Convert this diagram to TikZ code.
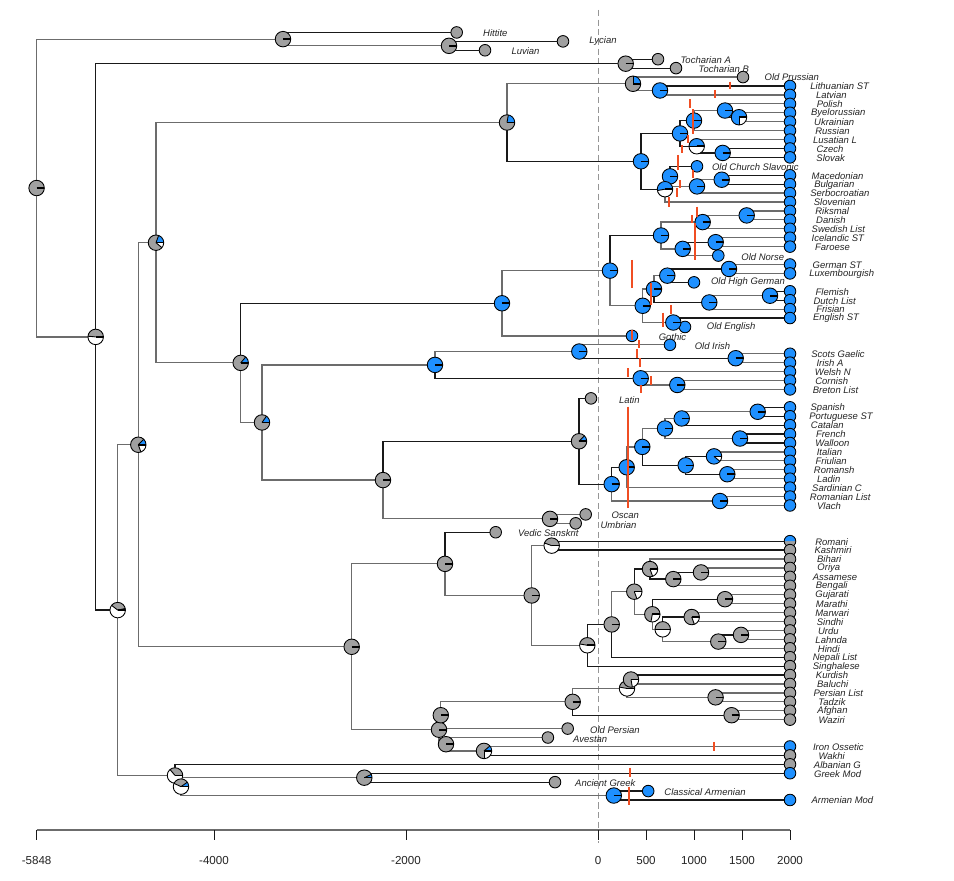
\documentclass[tikz,border=0pt]{standalone}
\usepackage{fontspec}
\setmainfont{Liberation Sans}
\definecolor{cblue}{RGB}{30,144,255}
\definecolor{cgrey}{RGB}{160,160,160}
\definecolor{cred}{RGB}{240,78,35}
\definecolor{edgek}{RGB}{25,25,25}
\definecolor{edgeg}{RGB}{108,108,108}
\definecolor{zerog}{RGB}{150,150,150}
\definecolor{labc}{RGB}{35,35,35}
\newcommand\PR{0.155cm}
\newcommand\TR{0.116cm}
\tikzset{
 ek/.style={draw=edgek,line width=0.7pt},
 eg/.style={draw=edgeg,line width=0.7pt},
 pieedge/.style={draw=black,line width=0.5pt},
 pietick/.style={draw=black,line width=0.9pt},
 tipedge/.style={draw=black,line width=0.5pt},
 redtick/.style={draw=cred,line width=1.2pt},
 lab/.style={font=\itshape\fontsize{5.4}{6}\selectfont,text=labc,inner sep=0pt},
 axlab/.style={font=\fontsize{6.6}{7}\selectfont,text=labc,inner sep=0pt},
 zeroline/.style={draw=zerog,line width=0.5pt,dash pattern=on 3.5pt off 2pt},
 axisline/.style={draw=edgeg,line width=0.8pt},
 axtick/.style={draw=edgek,line width=0.5pt}
}
\newcommand\pienode[3]{%
  \fill[white] (#1) circle[radius=\PR];
  \ifdim #2pt>0pt
    \fill[cblue] (#1) -- ++(0:\PR) arc[start angle=0,end angle=#2,radius=\PR] -- cycle;
  \fi
  \pgfmathsetmacro\pieE{#2+#3}%
  \ifdim #3pt>0pt
    \fill[cgrey] (#1) -- ++(#2:\PR) arc[start angle=#2,end angle=\pieE,radius=\PR] -- cycle;
  \fi
  \ifdim #2pt>0pt \ifdim #2pt<360pt \draw[pieedge] (#1) -- ++(#2:\PR); \fi\fi
  \ifdim #3pt>0pt \ifdim \pieE pt<360pt \draw[pieedge] (#1) -- ++(\pieE:\PR); \fi\fi
  \draw[pieedge] (#1) circle[radius=\PR];
  \draw[pietick] (#1) -- ++(0:\PR);
}
\newcommand\tipnode[2]{\draw[tipedge,fill=#2] (#1) circle[radius=\TR];}
\newcommand\redmark[3]{\draw[redtick] (#1,#2) -- (#1,#3);}
\begin{document}
\begin{tikzpicture}[x=0.02cm,y=-0.02cm]
\useasboundingbox (0,0) rectangle (954,881);
% zero line
\coordinate (z0) at (598,10); \coordinate (z1) at (598,843);
\draw[zeroline] (z0) -- (z1);
% ---- ancient tips
\coordinate (hit) at (456.7,32.45);
\coordinate (lyc) at (563,41.38);
\coordinate (luv) at (485,50.30);
\coordinate (tca) at (658,59.23);
\coordinate (tcb) at (676,68.15);
\coordinate (opr) at (743,77.08);
\coordinate (ocs) at (697,166.33);
\coordinate (ono) at (718.3,255.58);
\coordinate (ohg) at (694,282.35);
\coordinate (oen) at (685,326.98);
\coordinate (got) at (632,335.90);
\coordinate (oir) at (670,344.83);
\coordinate (lat) at (591,398.38);
\coordinate (osc) at (585.7,514.40);
\coordinate (umb) at (575.7,523.33);
\coordinate (ved) at (495.7,532.25);
\coordinate (ope) at (567.7,728.60);
\coordinate (ave) at (547.9,737.53);
\coordinate (agr) at (555,782.15);
\coordinate (car) at (648.2,791.08);
% ---- extant leaves
\coordinate (lit) at (790,86.00);
\coordinate (lav) at (790,94.93);
\coordinate (pol) at (790,103.85);
\coordinate (bye) at (790,112.78);
\coordinate (ukr) at (790,121.70);
\coordinate (rus) at (790,130.63);
\coordinate (lus) at (790,139.55);
\coordinate (cze) at (790,148.48);
\coordinate (slk) at (790,157.40);
\coordinate (mac) at (790,175.25);
\coordinate (bul) at (790,184.18);
\coordinate (ser) at (790,193.10);
\coordinate (slv) at (790,202.03);
\coordinate (rik) at (790,210.95);
\coordinate (dan) at (790,219.88);
\coordinate (swe) at (790,228.80);
\coordinate (ice) at (790,237.73);
\coordinate (far) at (790,246.65);
\coordinate (ger) at (790,264.50);
\coordinate (lux) at (790,273.43);
\coordinate (fle) at (790,291.28);
\coordinate (dut) at (790,300.20);
\coordinate (fri) at (790,309.13);
\coordinate (eng) at (790,318.05);
\coordinate (sco) at (790,353.75);
\coordinate (iri) at (790,362.68);
\coordinate (wel) at (790,371.60);
\coordinate (cor) at (790,380.53);
\coordinate (bre) at (790,389.45);
\coordinate (spa) at (790,407.30);
\coordinate (por) at (790,416.23);
\coordinate (cat) at (790,425.15);
\coordinate (fre) at (790,434.08);
\coordinate (wal) at (790,443.00);
\coordinate (ita) at (790,451.93);
\coordinate (fru) at (790,460.85);
\coordinate (roh) at (790,469.78);
\coordinate (lad) at (790,478.70);
\coordinate (sar) at (790,487.63);
\coordinate (rom) at (790,496.55);
\coordinate (vla) at (790,505.48);
\coordinate (rmi) at (790,541.18);
\coordinate (kas) at (790,550.10);
\coordinate (bih) at (790,559.03);
\coordinate (ori) at (790,567.95);
\coordinate (ass) at (790,576.88);
\coordinate (ben) at (790,585.80);
\coordinate (guj) at (790,594.73);
\coordinate (mar) at (790,603.65);
\coordinate (mrw) at (790,612.58);
\coordinate (sin) at (790,621.50);
\coordinate (urd) at (790,630.43);
\coordinate (lah) at (790,639.35);
\coordinate (hin) at (790,648.28);
\coordinate (nep) at (790,657.20);
\coordinate (sgh) at (790,666.13);
\coordinate (kur) at (790,675.05);
\coordinate (bal) at (790,683.98);
\coordinate (per) at (790,692.90);
\coordinate (taj) at (790,701.83);
\coordinate (afg) at (790,710.75);
\coordinate (waz) at (790,719.68);
\coordinate (oss) at (790,746.45);
\coordinate (wak) at (790,755.38);
\coordinate (alb) at (790,764.30);
\coordinate (grm) at (790,773.23);
\coordinate (arm) at (790,800.00);
% ---- internal nodes
\coordinate (n0) at (36.6,188.03);
\coordinate (nAna) at (283,39.15);
\coordinate (nLL) at (449,45.84);
\coordinate (n95) at (95.7,336.90);
\coordinate (nToc) at (625.7,63.69);
\coordinate (n117) at (117.7,610.11);
\coordinate (n138) at (138.3,444.76);
\coordinate (n156) at (156,242.71);
\coordinate (nBS) at (507,122.54);
\coordinate (nBal) at (633,83.77);
\coordinate (nEB) at (660,90.47);
\coordinate (nSla) at (641,161.31);
\coordinate (nWE) at (680,133.42);
\coordinate (nE) at (694,120.59);
\coordinate (nPBU) at (725,110.55);
\coordinate (nBU) at (739,117.24);
\coordinate (nWS) at (696.7,146.25);
\coordinate (nCS) at (722.7,152.94);
\coordinate (nSS) at (665,189.20);
\coordinate (nOCS) at (670,176.37);
\coordinate (nMBS) at (697,186.41);
\coordinate (nMB) at (721.7,179.72);
\coordinate (n240) at (240.7,362.88);
\coordinate (nGG) at (502,303.27);
\coordinate (nGer) at (610,270.65);
\coordinate (nN) at (661,235.50);
\coordinate (nN1) at (702.7,222.11);
\coordinate (nRD) at (746.7,215.42);
\coordinate (nN2) at (682.7,248.89);
\coordinate (nIF) at (715.7,242.19);
\coordinate (nW) at (642.7,305.79);
\coordinate (nW1) at (654,289.05);
\coordinate (nW2) at (667.3,275.66);
\coordinate (nGL) at (729,268.97);
\coordinate (nW3) at (709.3,302.44);
\coordinate (nFD) at (770,295.74);
\coordinate (nEng) at (673.3,322.52);
\coordinate (n262) at (262,422.49);
\coordinate (nCel) at (435,364.91);
\coordinate (nGoi) at (579.3,351.52);
\coordinate (nSI) at (735.7,358.22);
\coordinate (nBry) at (640.7,378.30);
\coordinate (nCB) at (677.3,384.99);
\coordinate (n383) at (383,480.07);
\coordinate (nIt) at (579,441.27);
\coordinate (nRom) at (611.7,484.15);
\coordinate (nR1) at (626.7,467.27);
\coordinate (nR2) at (642.3,446.91);
\coordinate (nR3) at (665,428.50);
\coordinate (nR4) at (681.7,418.46);
\coordinate (nSP) at (757.7,411.77);
\coordinate (nFW) at (740,438.54);
\coordinate (nR5) at (685.7,465.32);
\coordinate (nIFr) at (714,456.39);
\coordinate (nRL) at (727.3,474.24);
\coordinate (nRV) at (720,501.02);
\coordinate (nOU) at (550,518.87);
\coordinate (nII) at (351.7,646.80);
\coordinate (nIA) at (445,563.86);
\coordinate (nInd) at (531.7,595.47);
\coordinate (nRK) at (551.7,545.64);
\coordinate (nI1) at (587.3,645.29);
\coordinate (nI2) at (611.7,624.44);
\coordinate (nI3) at (634.3,591.67);
\coordinate (nI4) at (650,569.07);
\coordinate (nI5) at (673.3,579.11);
\coordinate (nOA) at (701,572.42);
\coordinate (nI6) at (652.3,614.26);
\coordinate (nGM) at (725,599.19);
\coordinate (nI7) at (662.7,629.32);
\coordinate (nMS) at (691.7,617.04);
\coordinate (nI8) at (718.3,641.59);
\coordinate (nUL) at (741,634.89);
\coordinate (nIr) at (439,729.73);
\coordinate (nIr1) at (440.8,715.22);
\coordinate (nIr2) at (572.7,701.84);
\coordinate (nIr3) at (627,688.45);
\coordinate (nKB) at (631,679.52);
\coordinate (nPT) at (715.6,697.37);
\coordinate (nAW) at (731.6,715.22);
\coordinate (nIr5) at (446,744.23);
\coordinate (nOW) at (484,750.92);
\coordinate (nAG) at (175,775.46);
\coordinate (nGA) at (181,786.62);
\coordinate (nGr) at (364.3,777.69);
\coordinate (nArm) at (613.8,795.54);
% ---- edges
\draw[eg] (n0) |- (nAna); \draw[eg] (n0) |- (n95);
\draw[ek] (nAna) |- (hit); \draw[eg] (nAna) |- (nLL);
\draw[ek] (nLL) |- (lyc); \draw[ek] (nLL) |- (luv);
\draw[ek] (n95) |- (nToc); \draw[ek] (n95) |- (n117);
\draw[ek] (nToc) |- (tca); \draw[ek] (nToc) |- (tcb);
\draw[eg] (n117) |- (n138); \draw[eg] (n117) |- (nAG);
\draw[eg] (n138) |- (n156); \draw[eg] (n138) |- (nII);
\draw[eg] (n156) |- (nBS); \draw[eg] (n156) |- (n240);
\draw[eg] (nBS) |- (nBal); \draw[ek] (nBS) |- (nSla);
\draw[eg] (nBal) |- (opr); \draw[eg] (nBal) |- (nEB);
\draw[ek] (nEB) |- (lit); \draw[eg] (nEB) |- (lav);
\draw[ek] (nSla) |- (nWE); \draw[ek] (nSla) |- (nSS);
\draw[ek] (nWE) |- (nE); \draw[ek] (nWE) |- (nWS);
\draw[eg] (nE) |- (nPBU); \draw[eg] (nE) |- (rus);
\draw[eg] (nPBU) |- (pol); \draw[ek] (nPBU) |- (nBU);
\draw[eg] (nBU) |- (bye); \draw[eg] (nBU) |- (ukr);
\draw[eg] (nWS) |- (lus); \draw[ek] (nWS) |- (nCS);
\draw[ek] (nCS) |- (cze); \draw[ek] (nCS) |- (slk);
\draw[ek] (nSS) |- (nOCS); \draw[eg] (nSS) |- (slv);
\draw[ek] (nOCS) |- (ocs); \draw[eg] (nOCS) |- (nMBS);
\draw[eg] (nMBS) |- (nMB); \draw[eg] (nMBS) |- (ser);
\draw[ek] (nMB) |- (mac); \draw[ek] (nMB) |- (bul);
\draw[ek] (n240) |- (nGG); \draw[eg] (n240) |- (n262);
\draw[eg] (nGG) |- (nGer); \draw[eg] (nGG) |- (got);
\draw[ek] (nGer) |- (nN); \draw[eg] (nGer) |- (nW);
\draw[eg] (nN) |- (nN1); \draw[eg] (nN) |- (nN2);
\draw[eg] (nN1) |- (nRD); \draw[eg] (nN1) |- (swe);
\draw[eg] (nRD) |- (rik); \draw[eg] (nRD) |- (dan);
\draw[ek] (nN2) |- (nIF); \draw[eg] (nN2) |- (ono);
\draw[eg] (nIF) |- (ice); \draw[eg] (nIF) |- (far);
\draw[eg] (nW) |- (nW1); \draw[eg] (nW) |- (nEng);
\draw[eg] (nW1) |- (nW2); \draw[ek] (nW1) |- (nW3);
\draw[ek] (nW2) |- (nGL); \draw[ek] (nW2) |- (ohg);
\draw[eg] (nGL) |- (ger); \draw[eg] (nGL) |- (lux);
\draw[eg] (nW3) |- (nFD); \draw[eg] (nW3) |- (fri);
\draw[ek] (nFD) |- (fle); \draw[ek] (nFD) |- (dut);
\draw[ek] (nEng) |- (eng); \draw[eg] (nEng) |- (oen);
\draw[eg] (n262) |- (nCel); \draw[eg] (n262) |- (n383);
\draw[eg] (nCel) |- (nGoi); \draw[ek] (nCel) |- (nBry);
\draw[eg] (nGoi) |- (oir); \draw[ek] (nGoi) |- (nSI);
\draw[eg] (nSI) |- (sco); \draw[eg] (nSI) |- (iri);
\draw[eg] (nBry) |- (wel); \draw[eg] (nBry) |- (nCB);
\draw[eg] (nCB) |- (cor); \draw[eg] (nCB) |- (bre);
\draw[ek] (n383) |- (nIt); \draw[eg] (n383) |- (nOU);
\draw[ek] (nIt) |- (lat); \draw[ek] (nIt) |- (nRom);
\draw[ek] (nRom) |- (nR1); \draw[eg] (nRom) |- (nRV);
\draw[eg] (nR1) |- (nR2); \draw[eg] (nR1) |- (sar);
\draw[eg] (nR2) |- (nR3); \draw[ek] (nR2) |- (nR5);
\draw[eg] (nR3) |- (nR4); \draw[eg] (nR3) |- (nFW);
\draw[eg] (nR4) |- (nSP); \draw[ek] (nR4) |- (cat);
\draw[ek] (nSP) |- (spa); \draw[ek] (nSP) |- (por);
\draw[ek] (nFW) |- (fre); \draw[ek] (nFW) |- (wal);
\draw[ek] (nR5) |- (nIFr); \draw[ek] (nR5) |- (nRL);
\draw[eg] (nIFr) |- (ita); \draw[eg] (nIFr) |- (fru);
\draw[eg] (nRL) |- (roh); \draw[eg] (nRL) |- (lad);
\draw[eg] (nRV) |- (rom); \draw[eg] (nRV) |- (vla);
\draw[eg] (nOU) |- (osc); \draw[eg] (nOU) |- (umb);
\draw[eg] (nII) |- (nIA); \draw[eg] (nII) |- (nIr);
\draw[ek] (nIA) |- (ved); \draw[eg] (nIA) |- (nInd);
\draw[eg] (nInd) |- (nRK); \draw[eg] (nInd) |- (nI1);
\draw[ek] (nRK) |- (rmi); \draw[ek] (nRK) |- (kas);
\draw[ek] (nI1) |- (nI2); \draw[ek] (nI1) |- (sgh);
\draw[eg] (nI2) |- (nI3); \draw[ek] (nI2) |- (nep);
\draw[ek] (nI3) |- (nI4); \draw[eg] (nI3) |- (nI6);
\draw[eg] (nI4) |- (bih); \draw[ek] (nI4) |- (nI5);
\draw[ek] (nI5) |- (nOA); \draw[eg] (nI5) |- (ben);
\draw[eg] (nOA) |- (ori); \draw[eg] (nOA) |- (ass);
\draw[ek] (nI6) |- (nGM); \draw[eg] (nI6) |- (nI7);
\draw[eg] (nGM) |- (guj); \draw[eg] (nGM) |- (mar);
\draw[ek] (nI7) |- (nMS); \draw[eg] (nI7) |- (nI8);
\draw[eg] (nMS) |- (mrw); \draw[eg] (nMS) |- (sin);
\draw[ek] (nI8) |- (nUL); \draw[eg] (nI8) |- (hin);
\draw[eg] (nUL) |- (urd); \draw[eg] (nUL) |- (lah);
\draw[eg] (nIr) |- (nIr1); \draw[eg] (nIr) |- (nIr5);
\draw[eg] (nIr1) |- (nIr2); \draw[eg] (nIr1) |- (ope);
\draw[eg] (nIr2) |- (nIr3); \draw[ek] (nIr2) |- (nAW);
\draw[eg] (nIr3) |- (nKB); \draw[eg] (nIr3) |- (nPT);
\draw[ek] (nKB) |- (kur); \draw[eg] (nKB) |- (bal);
\draw[eg] (nPT) |- (per); \draw[eg] (nPT) |- (taj);
\draw[eg] (nAW) |- (afg); \draw[eg] (nAW) |- (waz);
\draw[eg] (nIr5) |- (ave); \draw[eg] (nIr5) |- (nOW);
\draw[eg] (nOW) |- (oss); \draw[ek] (nOW) |- (wak);
\draw[ek] (nAG) |- (alb); \draw[eg] (nAG) |- (nGA);
\draw[eg] (nGA) |- (nGr); \draw[eg] (nGA) |- (nArm);
\draw[ek] (nGr) |- (grm); \draw[ek] (nGr) |- (agr);
\draw[ek] (nArm) |- (car); \draw[ek] (nArm) |- (arm);
% ---- tips
\foreach \t in {hit,lyc,luv,tca,tcb,opr,lat,osc,umb,ved,ope,ave,agr} {\tipnode{\t}{cgrey}}
\foreach \t in {ocs,ono,ohg,oen,got,oir,car} {\tipnode{\t}{cblue}}
\foreach \t in {lit,lav,pol,bye,ukr,rus,lus,cze,slk,mac,bul,ser,slv,rik,dan,swe,ice,far,ger,lux,fle,dut,fri,eng,sco,iri,wel,cor,bre,spa,por,cat,fre,wal,ita,fru,roh,lad,sar,rom,vla} {\tipnode{\t}{cblue}}
\fill[cgrey] (rmi) circle[radius=\TR];
\fill[cblue] (rmi) -- ++(0:\TR) arc[start angle=0,end angle=180,radius=\TR] -- cycle;
\draw[tipedge] (rmi) circle[radius=\TR];
\foreach \t in {kas,bih,ori,ass,ben,guj,mar,mrw,sin,urd,lah,hin,nep,sgh,kur,bal,per,taj,afg,waz} {\tipnode{\t}{cgrey}}
\tipnode{oss}{cblue}\tipnode{wak}{cgrey}\tipnode{alb}{cgrey}\tipnode{grm}{cblue}\tipnode{arm}{cblue}
% ---- pies
\foreach \n in {n0,nAna,nLL,nToc,n383,nOU,nII,nIA,nInd,nI2,nI5,nOA,nGM,nI8,nUL,nIr,nIr1,nIr2,nPT,nAW,nIr5} {\pienode{\n}{0}{360}}
\foreach \n in {nEB,nSla,nWE,nE,nPBU,nCS,nOCS,nMBS,nMB,nGG,nGer,nN,nN1,nRD,nN2,nIF,nW,nW1,nW2,nGL,nW3,nFD,nEng,nCel,nGoi,nSI,nBry,nCB,nRom,nR1,nR2,nR3,nR4,nSP,nFW,nR5,nRL,nRV,nArm} {\pienode{\n}{360}{0}}
\pienode{n95}{0}{175}
\pienode{n117}{12}{130}
\pienode{n138}{45}{245}
\pienode{n156}{70}{250}
\pienode{n240}{50}{310}
\pienode{n262}{55}{305}
\pienode{nBS}{80}{280}
\pienode{nBal}{90}{270}
\pienode{nIt}{45}{315}
\pienode{nBU}{270}{0}
\pienode{nWS}{180}{0}
\pienode{nSS}{190}{0}
\pienode{nIFr}{320}{0}
\pienode{nRK}{0}{160}
\pienode{nI1}{0}{170}
\pienode{nI3}{0}{290}
\pienode{nI4}{0}{290}
\pienode{nI6}{0}{260}
\pienode{nI7}{0}{180}
\pienode{nMS}{0}{290}
\pienode{nIr3}{0}{170}
\pienode{nKB}{0}{280}
\pienode{nOW}{40}{230}
\pienode{nAG}{0}{130}
\pienode{nGA}{35}{120}
\pienode{nGr}{25}{335}
% ---- red marks
\redmark{730}{81.7}{89.3}
\redmark{715}{90}{98.3}
\redmark{690}{99.5}{108}
\redmark{692.7}{109.3}{134}
\redmark{688.3}{135}{143.3}
\redmark{681.7}{145}{153.3}
\redmark{678.3}{155}{170}
\redmark{693.3}{170}{178.3}
\redmark{680}{180}{188.3}
\redmark{677.3}{188.3}{196.7}
\redmark{668.7}{197.3}{206.7}
\redmark{696.7}{206.7}{216.7}
\redmark{691.7}{215}{223.3}
\redmark{695}{223.3}{260}
\redmark{631.7}{260}{288.3}
\redmark{651}{283}{305}
\redmark{670.7}{305}{314}
\redmark{662.7}{312.7}{327.3}
\redmark{631.7}{330}{340}
\redmark{639.3}{340}{348.3}
\redmark{636.7}{349.3}{358.3}
\redmark{640}{358.3}{367.3}
\redmark{628.3}{368.3}{376.7}
\redmark{650.7}{376}{385}
\redmark{640.7}{385}{393.3}
\redmark{628.3}{406.7}{508.3}
\redmark{713.8}{742}{751}
\redmark{629.8}{768}{777}
\redmark{628.7}{786.7}{805}
% ---- ancient labels
\node[lab] (Lhit) at (495.3,33.3) {Hittite};
\node[lab] (Llyc) at (603,41.3) {Lycian};
\node[lab] (Lluv) at (525.5,51) {Luvian};
\node[lab] (Ltca) at (705.7,60) {Tocharian A};
\node[lab] (Ltcb) at (723.8,69) {Tocharian B};
\node[lab] (Lopr) at (791.8,77.3) {Old Prussian};
\node[lab] (Locs) at (755.3,166.7) {Old Church Slavonic};
\node[lab] (Lono) at (762.8,256.7) {Old Norse};
\node[lab] (Lohg) at (748,282.3) {Old High German};
\node[lab] (Loen) at (731.2,326.7) {Old English};
\node[lab] (Lgot) at (672.5,336.7) {Gothic};
\node[lab] (Loir) at (712.5,345.7) {Old Irish};
\node[lab] (Llat) at (629.3,400) {Latin};
\node[lab] (Losc) at (625.3,515.7) {Oscan};
\node[lab] (Lumb) at (618.5,525) {Umbrian};
\node[lab] (Lved) at (548.3,532.7) {Vedic Sanskrit};
\node[lab] (Lope) at (614.9,730) {Old Persian};
\node[lab] (Lave) at (590.2,739) {Avestan};
\node[lab] (Lagr) at (605.3,782.7) {Ancient Greek};
\node[lab] (Lcar) at (705,791.7) {Classical Armenian};
% ---- leaf labels
\node[lab] (Llit) at (839.7,86.5) {Lithuanian ST};
\node[lab] (Llav) at (831.3,95.4) {Latvian};
\node[lab] (Lpol) at (829.7,104.3) {Polish};
\node[lab] (Lbye) at (838.3,113.3) {Byelorussian};
\node[lab] (Lukr) at (834.2,122.2) {Ukrainian};
\node[lab] (Lrus) at (832.5,131.1) {Russian};
\node[lab] (Llus) at (835,140) {Lusatian L};
\node[lab] (Lcze) at (830,149) {Czech};
\node[lab] (Lslk) at (830.7,157.9) {Slovak};
\node[lab] (Lmac) at (837.5,175.7) {Macedonian};
\node[lab] (Lbul) at (834.3,184.7) {Bulgarian};
\node[lab] (Lser) at (839.8,193.6) {Serbocroatian};
\node[lab] (Lslv) at (834.7,202.5) {Slovenian};
\node[lab] (Lrik) at (832.2,211.4) {Riksmal};
\node[lab] (Ldan) at (831,220.4) {Danish};
\node[lab] (Lswe) at (838.3,229.3) {Swedish List};
\node[lab] (Lice) at (837.8,238.2) {Icelandic ST};
\node[lab] (Lfar) at (832.5,247.1) {Faroese};
\node[lab] (Lger) at (837.2,265) {German ST};
\node[lab] (Llux) at (841.7,273.9) {Luxembourgish};
\node[lab] (Lfle) at (832.2,291.8) {Flemish};
\node[lab] (Ldut) at (834.7,300.7) {Dutch List};
\node[lab] (Lfri) at (830.5,309.6) {Frisian};
\node[lab] (Leng) at (836,318.5) {English ST};
\node[lab] (Lsco) at (838,354.2) {Scots Gaelic};
\node[lab] (Liri) at (830,363.2) {Irish A};
\node[lab] (Lwel) at (832.8,372.1) {Welsh N};
\node[lab] (Lcor) at (831.7,381) {Cornish};
\node[lab] (Lbre) at (835.5,389.9) {Breton List};
\node[lab] (Lspa) at (827.8,407.8) {Spanish};
\node[lab] (Lpor) at (841,416.7) {Portuguese ST};
\node[lab] (Lcat) at (827.3,425.6) {Catalan};
\node[lab] (Lfre) at (830.8,434.6) {French};
\node[lab] (Lwal) at (832.3,443.5) {Walloon};
\node[lab] (Lita) at (829.5,452.4) {Italian};
\node[lab] (Lfru) at (831.2,461.3) {Friulian};
\node[lab] (Lroh) at (834.2,470.3) {Romansh};
\node[lab] (Llad) at (828.7,479.2) {Ladin};
\node[lab] (Lsar) at (837,488.1) {Sardinian C};
\node[lab] (Lrom) at (840.3,497) {Romanian List};
\node[lab] (Lvla) at (829,506) {Vlach};
\node[lab] (Lrmi) at (831.7,541.7) {Romani};
\node[lab] (Lkas) at (833,550.6) {Kashmiri};
\node[lab] (Lbih) at (829.2,559.5) {Bihari};
\node[lab] (Lori) at (828.8,568.4) {Oriya};
\node[lab] (Lass) at (835,577.4) {Assamese};
\node[lab] (Lben) at (831.7,586.3) {Bengali};
\node[lab] (Lguj) at (832,595.2) {Gujarati};
\node[lab] (Lmar) at (831.7,604.1) {Marathi};
\node[lab] (Lmrw) at (832.2,613.1) {Marwari};
\node[lab] (Lsin) at (830,622) {Sindhi};
\node[lab] (Lurd) at (828.3,630.9) {Urdu};
\node[lab] (Llah) at (831.3,639.8) {Lahnda};
\node[lab] (Lhin) at (828.8,648.8) {Hindi};
\node[lab] (Lnep) at (835,657.7) {Nepali List};
\node[lab] (Lsgh) at (836.3,666.6) {Singhalese};
\node[lab] (Lkur) at (832,675.5) {Kurdish};
\node[lab] (Lbal) at (832.7,684.5) {Baluchi};
\node[lab] (Lper) at (838.3,693.4) {Persian List};
\node[lab] (Ltaj) at (832,702.3) {Tadzik};
\node[lab] (Lafg) at (832.5,711.2) {Afghan};
\node[lab] (Lwaz) at (831.7,720.2) {Waziri};
\node[lab] (Loss) at (838.4,747) {Iron Ossetic};
\node[lab] (Lwak) at (831.7,755.9) {Wakhi};
\node[lab] (Lalb) at (837.4,764.8) {Albanian G};
\node[lab] (Lgrm) at (837.6,773.7) {Greek Mod};
\node[lab] (Larm) at (842.4,800.5) {Armenian Mod};
% ---- axis
\coordinate (ax0) at (36.6,830); \coordinate (ax1) at (790,830);
\draw[axisline] (ax0) -- (ax1);
\foreach \x/\t [count=\i] in {36.6/-5848,214/-4000,406/-2000,598/0,646/500,694/1000,742/1500,790/2000} {
  \draw[axtick] (\x,830) -- (\x,840);
  \node[axlab] (axl\i) at (\x,861) {\t};
}
\end{tikzpicture}
\end{document}
